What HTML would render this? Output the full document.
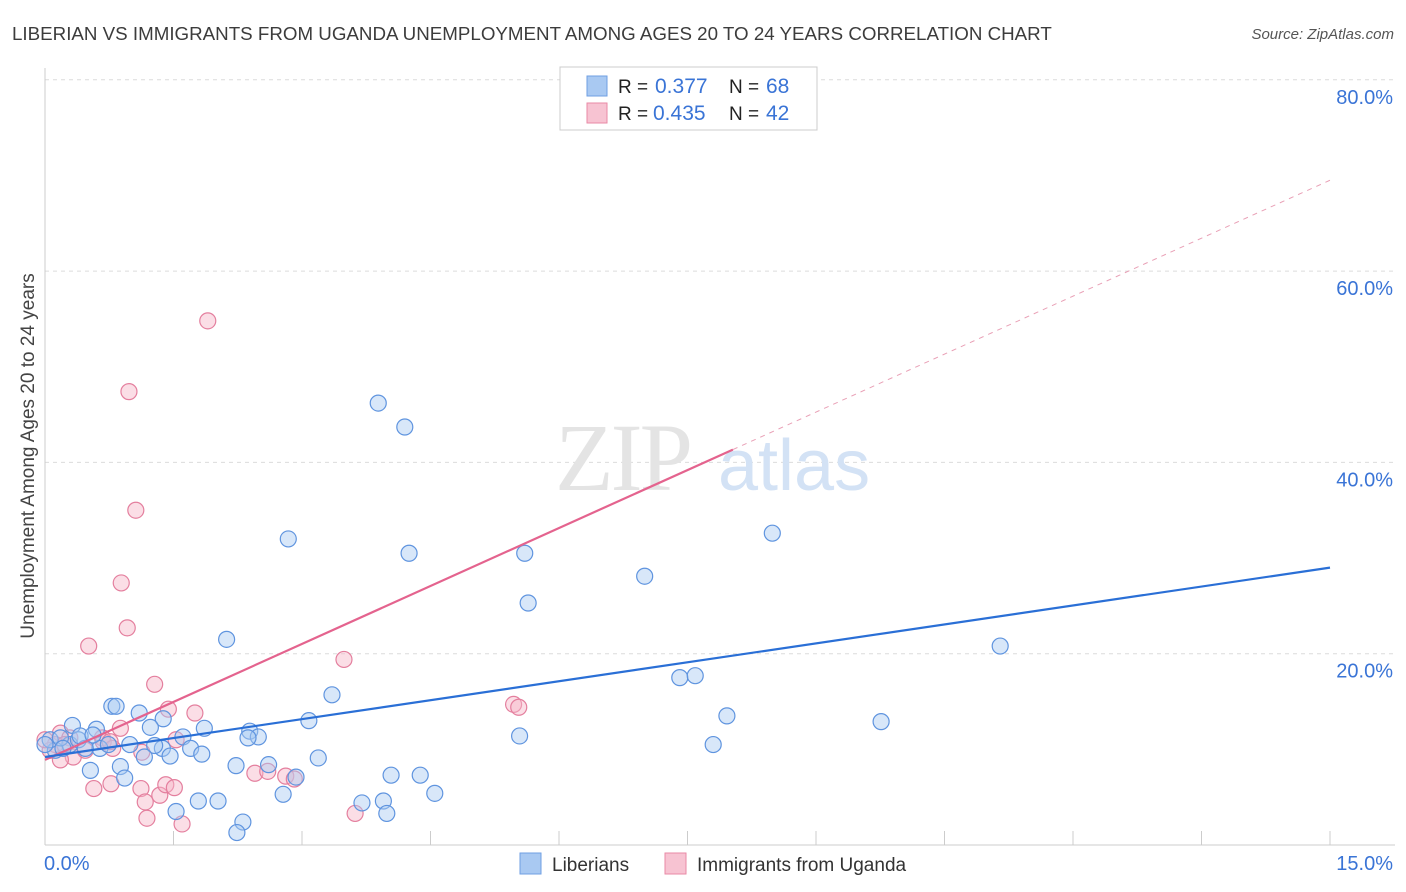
<!DOCTYPE html>
<html><head><meta charset="utf-8"><style>
body{margin:0;background:#fff;font-family:"Liberation Sans",sans-serif;}
#wrap{position:relative;width:1406px;height:892px;overflow:hidden;}
</style></head><body>
<div id="wrap">
<svg id="chart" width="1406" height="892"></svg>
</div>
<script>
const blueX=[3.89,4.20,2.84,4.25,5.60,8.49,7.00,5.64,11.15,2.12,7.41,7.59,3.35,7.96,9.76,7.80,5.54,0.78,0.83,1.10,1.38,1.37,0.32,0.60,0.99,1.61,1.86,1.70,1.83,2.39,2.49,2.37,3.08,3.19,2.23,2.61,2.93,2.78,4.04,4.38,4.55,3.70,3.95,3.99,1.79,2.02,1.53,2.31,2.24,0.88,0.93,0.53,0.29,0.12,0.06,0.18,0.39,0.64,0.74,0.47,1.28,1.46,1.16,1.23,0.41,0.21,0.0,0.56];
const blueY=[46.2,43.7,32.0,30.5,30.5,32.6,28.1,25.3,20.8,21.5,17.5,17.7,15.7,13.5,12.9,10.5,11.4,14.5,14.5,13.8,13.2,10.1,12.5,12.1,10.5,11.3,12.2,10.1,9.5,11.9,11.3,11.2,13.0,9.1,8.3,8.4,7.1,5.3,7.3,7.3,5.4,4.4,4.6,3.3,4.6,4.6,3.5,2.4,1.3,8.2,7.0,7.8,10.5,9.9,11.0,11.2,11.0,10.1,10.5,10.1,10.4,9.3,9.2,12.3,11.4,10.1,10.5,11.5];
const pinkX=[1.90,0.98,1.06,0.89,0.96,0.51,3.49,1.28,1.44,1.75,5.47,5.53,0.88,0.67,0.68,1.53,0.18,0.29,0.12,0.06,0.33,0.47,0.79,1.13,0.57,0.77,1.12,1.34,1.41,1.51,1.17,1.19,1.60,2.45,2.60,2.81,2.91,3.62,0.18,0.0,0.23,0.76];
const pinkY=[54.8,47.4,35.0,27.4,22.7,20.8,19.4,16.8,14.2,13.8,14.7,14.4,12.2,11.2,10.8,11.0,11.7,11.2,10.5,9.9,9.2,9.9,10.1,9.7,5.9,6.4,5.9,5.2,6.3,6.0,4.5,2.8,2.2,7.5,7.7,7.2,6.9,3.3,8.9,11.0,10.5,10.8];
const blueTrend=[9.2,29.0];
const pinkTrend=[8.9,69.5];
const pinkSolidEnd=8.03;
const yTicks=[20,40,60,80];
const yTickLabels=["20.0%","40.0%","60.0%","80.0%"];

const svg=document.getElementById('chart');
const NS='http://www.w3.org/2000/svg';
const X0=45,X1=1330,XMAX=15,Y0=845,YS=9.565;
const sx=v=>X0+(X1-X0)*v/XMAX;
const sy=v=>Y0-v*YS;
function mk(tag,attrs,parent){const e=document.createElementNS(NS,tag);for(const k in attrs)e.setAttribute(k,attrs[k]);(parent||svg).appendChild(e);return e;}

yTicks.forEach((t,i)=>{
  const g=mk('line',{x1:X0,x2:1395,y1:sy(t),y2:sy(t),stroke:'#dcdcdc','stroke-dasharray':'4,4'});
  
  
  const tx=mk('text',{x:1393,y:sy(t)+24,'text-anchor':'end','font-size':20,fill:'#3a74d6'});
  tx.textContent=yTickLabels[i];
  
  
});
const ax=mk('line',{x1:X0,x2:X0,y1:68,y2:Y0,stroke:'#ccc'});


const bx=mk('line',{x1:X0,x2:1395,y1:Y0,y2:Y0,stroke:'#ccc'});


for(let i=0;i<=10;i++){
  const t=mk('line',{x1:sx(i*1.5),x2:sx(i*1.5),y1:Y0-14,y2:Y0,stroke:'#ccc'});
  
  
}
const wm=mk('text',{x:555,y:490,'font-size':96,fill:'#e4e4e4','font-family':'Liberation Serif, serif','letter-spacing':'-3'});
wm.textContent='ZIP';


const wm2=mk('text',{x:718,y:490,'font-size':72,fill:'#d3e2f5'});
wm2.textContent='atlas';



function dots(xs,ys,fill,stroke,name){
  xs.forEach((x,i)=>{
    const c=mk('circle',{cx:sx(x),cy:sy(ys[i]),r:8,fill:fill,'fill-opacity':0.45,stroke:stroke,'stroke-width':1.2});
    
    
  });
}
dots(pinkX,pinkY,'#f7b6c8','#e47f9e','uganda-point');
dots(blueX,blueY,'#a9c9f2','#5f94df','liberian-point');

const pd=mk('line',{x1:sx(pinkSolidEnd),y1:sy(pinkTrend[0]+(pinkTrend[1]-pinkTrend[0])*pinkSolidEnd/XMAX),x2:sx(XMAX),y2:sy(pinkTrend[1]),stroke:'#e9a0b6','stroke-width':1,'stroke-dasharray':'5,5'});


const pl=mk('line',{x1:sx(0),y1:sy(pinkTrend[0]),x2:sx(pinkSolidEnd),y2:sy(pinkTrend[0]+(pinkTrend[1]-pinkTrend[0])*pinkSolidEnd/XMAX),stroke:'#e4638e','stroke-width':2.2});


const bl=mk('line',{x1:sx(0),y1:sy(blueTrend[0]),x2:sx(XMAX),y2:sy(blueTrend[1]),stroke:'#2a6fd6','stroke-width':2.2});



function txt(x,y,s,size,fill,anchor,name,extra){
  const t=mk('text',Object.assign({x:x,y:y,'font-size':size,fill:fill,'text-anchor':anchor||'start'},extra||{}));
  t.textContent=s;
  
  
  return t;
}
txt(12,40,'LIBERIAN VS IMMIGRANTS FROM UGANDA UNEMPLOYMENT AMONG AGES 20 TO 24 YEARS CORRELATION CHART',18.75,'#3c3c3c','start','chart-title');
txt(1394,39,'Source: ZipAtlas.com',15,'#555','end','source-label',{'font-style':'italic'});
txt(44,870,'0.0%',20,'#3a74d6','start','x-min-label');
txt(1393,870,'15.0%',20,'#3a74d6','end','x-max-label');
const yt=txt(0,0,'Unemployment Among Ages 20 to 24 years',19,'#444','middle','y-axis-title');
yt.setAttribute('transform','translate(34,456) rotate(-90)');

const lb=mk('rect',{x:560,y:67,width:257,height:63,fill:'#fff',stroke:'#ccc'});


const s1=mk('rect',{x:587,y:76,width:20,height:20,fill:'#a9c9f2',stroke:'#6f9fe3'});


const s2=mk('rect',{x:587,y:103,width:20,height:20,fill:'#f7c3d2',stroke:'#e98aa6'});


const r1=txt(618,93,'',19,'#222','start','legend-stat-liberians');
r1.innerHTML='R = <tspan x="655" fill="#3a74d6" font-size="21">0.377</tspan><tspan x="729">N = </tspan><tspan x="766" fill="#3a74d6" font-size="21">68</tspan>';
const r2=txt(618,120,'',19,'#222','start','legend-stat-uganda');
r2.innerHTML='R = <tspan x="653" fill="#3a74d6" font-size="21">0.435</tspan><tspan x="729">N = </tspan><tspan x="766" fill="#3a74d6" font-size="21">42</tspan>';

const b1=mk('rect',{x:520,y:853,width:21,height:21,fill:'#a9c9f2',stroke:'#6f9fe3'});


txt(552,871,'Liberians',19,'#333','start','legend-entry-liberians');
const b2=mk('rect',{x:665,y:853,width:21,height:21,fill:'#f7c3d2',stroke:'#e98aa6'});


txt(697,871,'Immigrants from Uganda',19,'#333','start','legend-entry-uganda');
</script>
</body></html>
